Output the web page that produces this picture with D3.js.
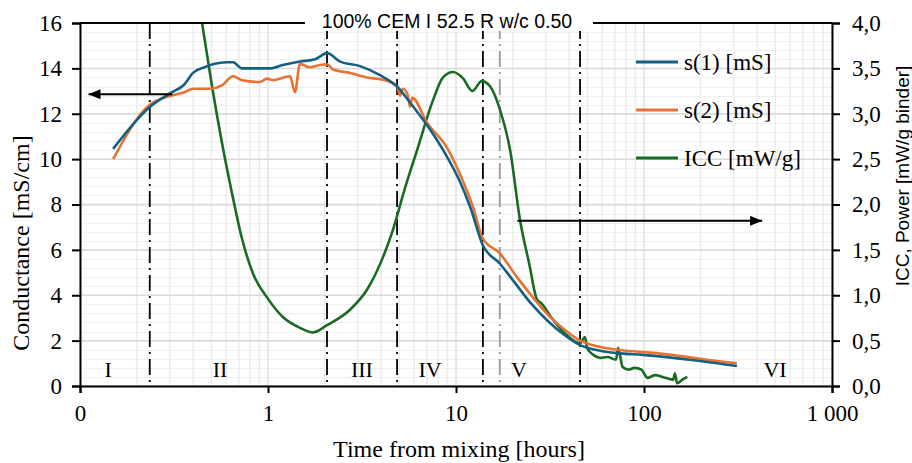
<!DOCTYPE html>
<html>
<head>
<meta charset="utf-8">
<script src="https://cdn.jsdelivr.net/npm/d3@7"></script>
<style>
  body { margin: 0; background: #fff; }
  svg { display: block; }
</style>
</head>
<body>
<div id="chart"></div>
<script>
// Data
// s(1) conductance [mS/cm] vs. time [h]
const s1Time = [0.150, 0.235, 0.301, 0.36, 0.399, 0.46, 0.52, 0.60, 0.652, 0.728, 0.85, 1.02, 1.20, 1.48, 1.78, 2.06, 2.42, 3.09, 3.94, 4.86, 5.69, 7.01, 8.96, 10.5, 12.0, 13.9, 17.1, 19.5, 25.0, 30.5, 37.0, 45.7, 55.0, 71.8, 98.8, 140, 199, 312];
const s1Val  = [10.45, 12.3, 12.9, 13.3, 13.8, 14.05, 14.2, 14.27, 14.27, 14.0, 14.0, 14.0, 14.15, 14.3, 14.4, 14.67, 14.3, 14.1, 13.7, 13.2, 12.5, 11.5, 10.1, 9.0, 7.8, 6.2, 5.4, 4.8, 3.65, 2.9, 2.3, 1.8, 1.6, 1.45, 1.37, 1.25, 1.1, 0.88];

// s(2) conductance [mS/cm] vs. time [h]
const s2Time = [0.150, 0.235, 0.290, 0.36, 0.399, 0.491, 0.569, 0.652, 0.728, 0.906, 0.988, 1.06, 1.31, 1.39, 1.48, 1.67, 1.89, 2.06, 2.22, 2.73, 3.36, 4.09, 4.86, 5.04, 5.22, 5.55, 5.69, 5.85, 7.01, 8.96, 10.8, 12.3, 13.9, 17.1, 21.1, 25.7, 31.6, 38.9, 45.7, 58.4, 71.8, 98.8, 140, 199, 312];
const s2Val  = [10.0, 12.4, 12.75, 12.95, 13.1, 13.1, 13.25, 13.65, 13.48, 13.4, 13.55, 13.48, 13.65, 12.95, 14.2, 14.05, 14.15, 14.18, 13.95, 13.8, 13.6, 13.5, 13.2, 12.8, 13.1, 12.8, 12.3, 12.7, 11.6, 10.5, 9.1, 7.9, 6.5, 5.85, 4.8, 3.9, 3.05, 2.4, 2.0, 1.72, 1.6, 1.5, 1.38, 1.2, 1.0];

// ICC power [mW/g binder] vs. time [h]
const iccTime = [0.446, 0.504, 0.569, 0.644, 0.728, 0.832, 1.0, 1.20, 1.48, 1.73, 2.06, 2.73, 3.36, 4.09, 4.62, 5.3, 6.21, 7.55, 8.53, 9.64, 10.9, 12.2, 13.7, 15.2, 17.1, 19.4, 21.9, 24.5, 27.0, 28.5, 32.0, 38.0, 45.7, 48.5, 49.8, 54.0, 58.4, 64.0, 71.0, 72.8, 77.0, 83.0, 89.0, 97.0, 100, 104, 115, 130, 143, 146, 150, 160, 170];
const iccVal  = [4.0, 3.3, 2.68, 2.12, 1.62, 1.24, 0.96, 0.76, 0.64, 0.59, 0.67, 0.84, 1.06, 1.42, 1.72, 2.15, 2.6, 3.15, 3.4, 3.46, 3.39, 3.25, 3.36, 3.30, 3.05, 2.6, 1.83, 1.35, 0.95, 0.91, 0.76, 0.58, 0.47, 0.54, 0.42, 0.34, 0.31, 0.32, 0.29, 0.42, 0.21, 0.18, 0.2, 0.18, 0.14, 0.09, 0.12, 0.09, 0.07, 0.14, 0.03, 0.07, 0.1];

// phase boundaries [h] and the dashed grey line
const phaseBounds = [0.235, 2.06, 4.86, 13.9, 45.7];
const greyLine = 17.1;
const phaseNames = ["I", "II", "III", "IV", "V", "VI"];
const phaseLabelTime = [0.141, 0.556, 3.16, 7.28, 21.6, 498];

// tick labels
const xTicks = [0.1, 1, 10, 100, 1000];
const xTickLabels = ["0", "1", "10", "100", "1 000"];
const yLeftTicks = [0, 2, 4, 6, 8, 10, 12, 14, 16];
const yRightTicks = [0, 0.5, 1, 1.5, 2, 2.5, 3, 3.5, 4];

const legendNames = ["s(1) [mS]", "s(2) [mS]", "ICC [mW/g]"];
const colors = ["#156082", "#E97132", "#196B24"];

// Dimensions
const W = 912, H = 463;
const margin = { top: 23, right: 80, bottom: 77, left: 80 };
const width = W - margin.left - margin.right;
const height = H - margin.top - margin.bottom;

const x = d3.scaleLog().domain([0.1, 1000]).range([0, width]);
const yL = d3.scaleLinear().domain([0, 16]).range([height, 0]);
const yR = d3.scaleLinear().domain([0, 4]).range([height, 0]);

const svg = d3.select("#chart").append("svg")
  .attr("width", W).attr("height", H);

const defs = svg.append("defs");
defs.append("clipPath").attr("id", "plotclip")
  .append("rect").attr("width", width).attr("height", height);
defs.append("marker")
  .attr("id", "arrow")
  .attr("viewBox", "0 0 12 10")
  .attr("refX", 12).attr("refY", 5)
  .attr("markerWidth", 12).attr("markerHeight", 10)
  .attr("markerUnits", "userSpaceOnUse")
  .attr("orient", "auto")
  .append("path").attr("d", "M0,0 L12,5 L0,10 Z").attr("fill", "#000");

const g = svg.append("g")
  .attr("transform", "translate(" + margin.left + "," + margin.top + ")");

// Minor grid (horizontal every 0.1 on right axis)
const minorY = d3.range(0, 4.0001, 0.1);
g.append("g").selectAll("line").data(minorY).join("line")
  .attr("x1", 0).attr("x2", width)
  .attr("y1", d => Math.round(yR(d)) + 0.5).attr("y2", d => Math.round(yR(d)) + 0.5)
  .attr("stroke", "#efefef").attr("stroke-width", 1);

// Minor grid vertical
const minorX = [];
[0.1, 1, 10, 100].forEach(dec => { for (let k = 2; k <= 9; k++) minorX.push(dec * k); });
g.append("g").selectAll("line").data(minorX).join("line")
  .attr("x1", d => x(d)).attr("x2", d => x(d))
  .attr("y1", 0).attr("y2", height)
  .attr("stroke", "#ececec").attr("stroke-width", 1.5);

// Major grid
g.append("g").selectAll("line").data(yLeftTicks).join("line")
  .attr("x1", 0).attr("x2", width)
  .attr("y1", d => yL(d)).attr("y2", d => yL(d))
  .attr("stroke", "#d9d9d9").attr("stroke-width", 1.5);
g.append("g").selectAll("line").data(xTicks).join("line")
  .attr("x1", d => x(d)).attr("x2", d => x(d))
  .attr("y1", 0).attr("y2", height)
  .attr("stroke", "#d9d9d9").attr("stroke-width", 1.2);

// Phase boundaries
g.append("g").selectAll("line").data(phaseBounds).join("line")
  .attr("x1", d => x(d)).attr("x2", d => x(d))
  .attr("y1", 0).attr("y2", height)
  .attr("stroke", "#000").attr("stroke-width", 1.8)
  .attr("stroke-dasharray", "16,5,2,5");
g.append("line")
  .attr("x1", x(greyLine)).attr("x2", x(greyLine))
  .attr("y1", 0).attr("y2", height)
  .attr("stroke", "#999").attr("stroke-width", 1.8)
  .attr("stroke-dasharray", "16,5,2,5");

// Phase names
g.append("g").selectAll("text").data(phaseNames).join("text")
  .attr("x", (d, i) => x(phaseLabelTime[i]))
  .attr("y", 377 - margin.top)
  .attr("text-anchor", "middle")
  .style("font-family", "'Liberation Serif', 'Times New Roman', serif")
  .style("font-size", "22px")
  .text(d => d);

// Lines
const plot = g.append("g").attr("clip-path", "url(#plotclip)");
const lineL = d3.line().x(d => x(d[0])).y(d => yL(d[1])).curve(d3.curveMonotoneX);
const lineR = d3.line().x(d => x(d[0])).y(d => yR(d[1])).curve(d3.curveMonotoneX);

plot.append("path").datum(d3.zip(iccTime, iccVal))
  .attr("fill", "none").attr("stroke", colors[2]).attr("stroke-width", 2.6)
  .attr("stroke-linejoin", "round").attr("d", lineR);
plot.append("path").datum(d3.zip(s2Time, s2Val))
  .attr("fill", "none").attr("stroke", colors[1]).attr("stroke-width", 2.6)
  .attr("stroke-linejoin", "round").attr("d", lineL);
plot.append("path").datum(d3.zip(s1Time, s1Val))
  .attr("fill", "none").attr("stroke", colors[0]).attr("stroke-width", 2.6)
  .attr("stroke-linejoin", "round").attr("d", lineL);

// Arrows pointing to their axes
g.append("line")
  .attr("x1", x(0.31)).attr("x2", x(0.111))
  .attr("y1", yL(12.86)).attr("y2", yL(12.86))
  .attr("stroke", "#000").attr("stroke-width", 2)
  .attr("marker-end", "url(#arrow)");
g.append("line")
  .attr("x1", x(21.2)).attr("x2", x(425))
  .attr("y1", yR(1.82)).attr("y2", yR(1.82))
  .attr("stroke", "#000").attr("stroke-width", 2)
  .attr("marker-end", "url(#arrow)");

// Axes
const serif = "'Liberation Serif', 'Times New Roman', serif";
const axL = g.append("g")
  .call(d3.axisLeft(yL).tickValues(yLeftTicks).tickSize(8).tickPadding(10).tickFormat(d3.format("d")));
const axR = g.append("g").attr("transform", "translate(" + width + ",0)")
  .call(d3.axisRight(yR).tickValues(yRightTicks).tickSize(8).tickPadding(12)
    .tickFormat(d => d3.format(".1f")(d).replace(".", ",")));
const axB = g.append("g").attr("transform", "translate(0," + height + ")")
  .call(d3.axisBottom(x).tickValues(xTicks).tickSize(7).tickPadding(12)
    .tickFormat((d, i) => xTickLabels[i]));
[axL, axR, axB].forEach(a => {
  a.select(".domain").attr("stroke", "#000").attr("stroke-width", 2);
  a.selectAll(".tick line").attr("stroke", "#000").attr("stroke-width", 2);
  a.selectAll(".tick text").style("font-family", serif).style("font-size", "23px").attr("fill", "#000");
});
// top border
g.append("line").attr("x1", 0).attr("x2", width).attr("y1", 0).attr("y2", 0)
  .attr("stroke", "#000").attr("stroke-width", 2);

// Title with white box
svg.append("rect").attr("x", 305).attr("y", 0).attr("width", 288).attr("height", 31).attr("fill", "#fff");
svg.append("text")
  .attr("x", 447).attr("y", 28)
  .attr("text-anchor", "middle")
  .style("font-family", "'Liberation Sans', Arial, sans-serif")
  .style("font-size", "19.5px")
  .text("100% CEM I 52.5 R w/c 0.50");

// Axis titles
svg.append("text")
  .attr("transform", "translate(29," + 243 + ") rotate(-90)")
  .attr("text-anchor", "middle")
  .style("font-family", serif).style("font-size", "24px")
  .text("Conductance [mS/cm]");
svg.append("text")
  .attr("x", 459).attr("y", 457)
  .attr("text-anchor", "middle")
  .style("font-family", serif).style("font-size", "24px")
  .text("Time from mixing [hours]");
svg.append("text")
  .attr("transform", "translate(909," + 176 + ") rotate(-90)")
  .attr("text-anchor", "middle")
  .style("font-family", "'Liberation Sans', Arial, sans-serif").style("font-size", "19px")
  .text("ICC, Power [mW/g binder]");

// Legend
const legend = svg.append("g").attr("transform", "translate(636,62)");
legendNames.forEach((name, i) => {
  const row = legend.append("g").attr("transform", "translate(0," + i * 48 + ")");
  row.append("line").attr("x1", 0).attr("x2", 42).attr("y1", 0).attr("y2", 0)
    .attr("stroke", colors[i]).attr("stroke-width", 3);
  row.append("text").attr("x", 48).attr("y", 8)
    .style("font-family", serif).style("font-size", "23px")
    .text(name);
});
</script>
</body>
</html>
